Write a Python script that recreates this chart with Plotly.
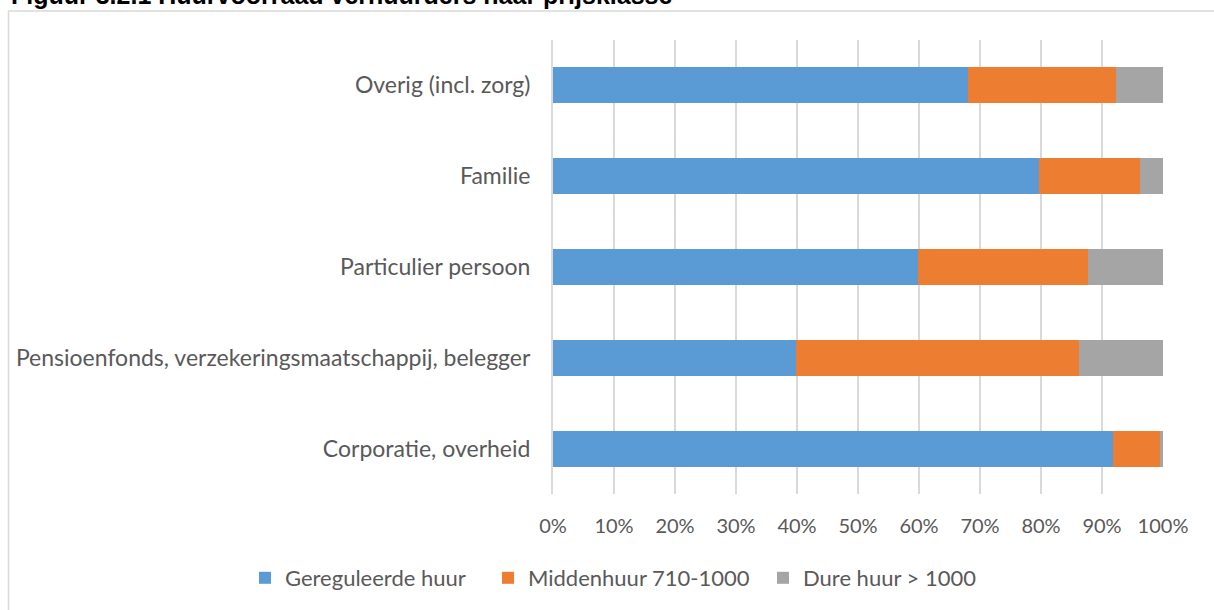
import plotly.graph_objects as go

categories = [
    "Corporatie, overheid",
    "Pensioenfonds, verzekeringsmaatschappij, belegger",
    "Particulier persoon",
    "Familie",
    "Overig (incl. zorg)",
]
gereguleerd = [91.8, 39.8, 59.8, 79.6, 68.0]
midden = [7.7, 46.4, 27.9, 16.7, 24.3]
duur = [0.5, 13.8, 12.3, 3.7, 7.7]
series_names = ["Gereguleerde huur", "Middenhuur 710-1000", "Dure huur > 1000"]
colors = ["#5B9BD5", "#ED7D31", "#A5A5A5"]
tick_vals = [i / 10 for i in range(11)]
tick_text = [f"{i*10}%" for i in range(11)]
title_text = "Figuur 3.2.1 Huurvoorraad verhuurders naar prijsklasse"

W, H = 1214, 610
L, R, T, B = 553, 51, 40, 116
PW, PH = W - L - R, H - T - B
legend_widths = [198, 230, 180]

def px_x(px):
    return (px - L) / PW

def px_y(py):
    return 1 - (py - T) / PH

fig = go.Figure()
for name, vals, col, lw in zip(series_names, [gereguleerd, midden, duur], colors, legend_widths):
    fig.add_trace(go.Bar(
        y=categories,
        x=[v / 100 for v in vals],
        name=name,
        orientation="h",
        legendwidth=lw,
        marker=dict(color=col, line=dict(width=0)),
    ))

txt = "#595959"
fam = "Lato, Calibri, sans-serif"

fig.update_layout(
    width=W, height=H,
    margin=dict(l=L, r=R, t=T, b=B, autoexpand=False),
    barmode="stack",
    bargap=0.604,
    paper_bgcolor="white",
    plot_bgcolor="white",
    font=dict(family=fam, size=20, color=txt),
    showlegend=True,
    legend=dict(
        orientation="h",
        x=px_x(245), xanchor="left",
        y=px_y(578), yanchor="middle",
        font=dict(family=fam, size=22, color=txt),
        traceorder="normal",
        bgcolor="rgba(0,0,0,0)",
    ),
    xaxis=dict(
        range=[0, 1],
        tickvals=tick_vals,
        ticktext=tick_text,
        showgrid=True,
        gridcolor="#D9D9D9",
        gridwidth=2,
        zeroline=False,
        showline=False,
        ticks="",
        ticklabelstandoff=18,
        tickfont=dict(family=fam, size=20, color=txt),
        fixedrange=True,
    ),
    yaxis=dict(
        categoryorder="array",
        categoryarray=categories,
        showgrid=False,
        zeroline=False,
        showline=True,
        linecolor="#D9D9D9",
        linewidth=2,
        ticks="",
        ticklabelstandoff=16,
        tickfont=dict(family=fam, size=23, color=txt),
        fixedrange=True,
    ),
    shapes=[
        dict(
            type="rect", xref="paper", yref="paper",
            x0=px_x(8.5), x1=px_x(1230),
            y0=px_y(630), y1=px_y(11),
            line=dict(color="#D9D9D9", width=1.5),
            fillcolor="rgba(0,0,0,0)",
            layer="below",
        )
    ],
    annotations=[
        dict(
            text="<b>" + title_text + "</b>",
            xref="paper", yref="paper",
            x=px_x(9), xanchor="left",
            y=px_y(-4.5), yanchor="middle",
            showarrow=False,
            font=dict(family="Liberation Sans, Arial, sans-serif", size=25, color="#000000"),
        )
    ],
)

fig.write_html(
    "out.html",
    config={"displayModeBar": False},
    post_script="document.body.style.margin='0';document.body.style.overflow='hidden';",
)
